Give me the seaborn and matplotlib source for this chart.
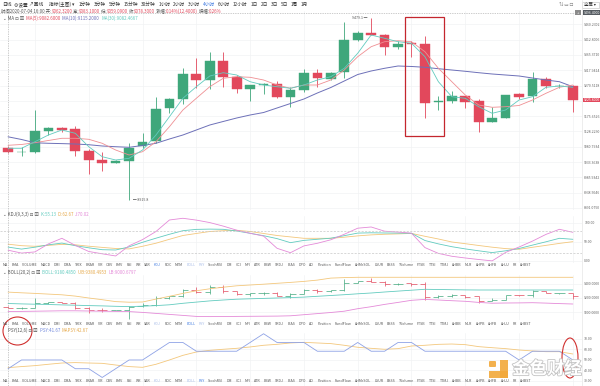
import numpy as np
import matplotlib
matplotlib.use('Agg')
import matplotlib.pyplot as plt
import matplotlib.patches as mpatches
import matplotlib.patheffects as pe
import seaborn as sns

# --- bougies 4h ---
opens = [9076.1, 9063.7, 9065.5, 9130.6, 9139.9, 9135.0, 9067.7, 9039.8, 9031.4, 9037.6,
         9083.2, 9098.7, 9200.1, 9229.8, 9305.5, 9287.8, 9346.7, 9296.2, 9259.9, 9271.4,
         9275.4, 9234.2, 9256.8, 9310.4, 9290.0, 9311.7, 9411.8, 9434.4, 9427.3, 9389.2,
         9403.4, 9399.4, 9218.7, 9222.7, 9238.2, 9223.6, 9158.5, 9170.9, 9243.5, 9238.2,
         9291.8, 9269.2, 9269.2]
highs = [9083.2, 9081.0, 9194.8, 9143.0, 9143.0, 9145.2, 9073.0, 9065.5, 9039.8, 9093.4,
         9124.4, 9234.2, 9231.8, 9324.1, 9355.1, 9373.7, 9373.7, 9303.3, 9273.5, 9277.6,
         9285.6, 9267.0, 9321.0, 9321.0, 9312.0, 9468.5, 9440.6, 9479.1, 9430.4, 9409.6,
         9409.6, 9424.2, 9238.2, 9253.7, 9239.0, 9228.0, 9205.0, 9242.0, 9247.0, 9313.5,
         9298.0, 9275.0, 9272.3]
lows = [9061.5, 9053.1, 9062.0, 9117.3, 9126.6, 9052.2, 8996.4, 9005.7, 9029.6, 8915.8,
        9077.9, 9091.6, 9184.6, 9213.4, 9262.1, 9259.0, 9267.0, 9246.6, 9222.7, 9244.4,
        9233.0, 9203.2, 9251.5, 9265.2, 9288.0, 9293.1, 9409.6, 9427.0, 9365.3, 9383.0,
        9360.0, 9169.1, 9194.8, 9217.4, 9200.1, 9127.5, 9157.0, 9169.1, 9230.0, 9220.5,
        9262.1, 9262.0, 9189.5]
closes = [9063.7, 9065.5, 9129.7, 9139.9, 9133.7, 9068.6, 9039.8, 9031.4, 9037.6, 9077.9,
          9096.5, 9197.0, 9229.8, 9305.5, 9287.8, 9346.7, 9298.0, 9259.9, 9272.3, 9275.4,
          9234.2, 9256.8, 9310.4, 9293.1, 9310.4, 9411.8, 9434.4, 9427.3, 9389.2, 9399.4,
          9399.4, 9217.4, 9222.7, 9238.2, 9220.5, 9158.5, 9170.9, 9241.3, 9236.0, 9290.9,
          9269.2, 9270.0, 9225.8]

# moyennes mobiles
ma_fast = [9076.1, 9076.1, 9096.5, 9117.3, 9132.8, 9122.6, 9081.0, 9050.0, 9039.8, 9045.1,
           9070.8, 9117.3, 9174.0, 9231.1, 9267.0, 9300.2, 9310.4, 9303.3, 9282.5, 9272.3,
           9267.0, 9262.1, 9272.3, 9287.8, 9298.0, 9324.1, 9370.6, 9427.3, 9417.1, 9406.5,
           9401.6, 9360.0, 9282.5, 9236.0, 9231.1, 9205.0, 9184.6, 9194.8, 9225.8, 9236.0,
           9265.2, 9269.2, 9265.2]
ma_mid = [9085.4, 9087.9, 9093.4, 9100.3, 9107.1, 9107.1, 9104.0, 9091.6, 9070.8, 9055.3,
          9065.5, 9096.5, 9143.0, 9194.8, 9231.1, 9267.0, 9293.1, 9298.0, 9296.2, 9287.8,
          9272.3, 9262.1, 9272.3, 9272.3, 9287.8, 9318.8, 9360.0, 9391.0, 9406.5, 9409.6,
          9406.5, 9375.5, 9324.1, 9282.5, 9241.3, 9210.3, 9203.2, 9205.0, 9208.8, 9225.8,
          9246.6, 9265.2, 9272.3]
ma_slow = [9111.7, 9103.4, 9093.1, 9091.6, 9090.6, 9089.4, 9087.2, 9083.2, 9081.0, 9079.2,
           9084.8, 9091.6, 9104.9, 9117.3, 9132.8, 9148.3, 9159.2, 9170.0, 9179.3, 9187.0,
           9201.0, 9214.9, 9228.9, 9247.5, 9264.5, 9284.7, 9304.8, 9315.7, 9324.1, 9331.2,
           9329.7, 9327.2, 9322.8, 9318.8, 9314.8, 9310.4, 9306.4, 9303.3, 9300.2, 9294.0,
           9287.8, 9282.5, 9267.0]

# KDJ
k_vals = [36.6, 31.3, 36.3, 42.6, 47.1, 40.3, 34.7, 29.7, 28.9, 37.1, 49.2, 60.0, 70.3, 79.7,
          83.2, 83.9, 83.4, 78.9, 72.9, 66.6, 58.9, 48.2, 54.2, 57.1, 60.0, 66.6, 73.4, 74.2,
          73.7, 73.4, 72.9, 53.9, 45.0, 37.6, 31.8, 26.8, 22.1, 26.8, 32.9, 41.8, 50.5, 59.7, 57.1]
d_vals = [44.2, 40.3, 38.7, 41.1, 43.7, 42.6, 38.9, 35.8, 32.9, 31.8, 38.7, 46.8, 57.1, 67.1,
          72.4, 77.6, 79.7, 80.8, 77.6, 72.4, 67.1, 63.4, 59.7, 59.7, 59.7, 62.6, 66.1, 68.7,
          70.3, 71.3, 72.6, 65.0, 57.9, 50.0, 45.5, 40.8, 36.3, 32.6, 30.8, 36.1, 41.1, 46.3, 50.8]
j_vals = [28.4, 20.8, 23.9, 45.0, 59.7, 41.1, 25.0, 18.9, 13.2, 40.0, 56.3, 77.6, 107.9, 112.4,
          107.6, 101.1, 91.8, 81.1, 72.9, 65.5, 33.4, 21.8, 39.7, 46.6, 55.8, 70.3, 86.3, 89.5,
          78.4, 76.1, 73.2, 35.3, 20.0, 12.4, 7.9, 3.9, 0.3, 22.6, 36.8, 52.4, 70.0, 83.4, 75.5]

# BOLL
boll_ub = [9281.4, 9271.8, 9263.5, 9253.8, 9244.2, 9226.2, 9200.0, 9176.5, 9150.3, 9142.0,
           9144.8, 9184.8, 9223.5, 9263.5, 9299.4, 9327.0, 9349.0, 9368.4, 9379.4, 9390.4,
           9402.9, 9415.3, 9429.1, 9447.0, 9474.6, 9481.5, 9485.7, 9485.7, 9485.9, 9485.9,
           9485.7, 9485.7, 9485.5, 9485.5, 9485.7, 9485.7, 9485.7, 9485.9, 9485.7, 9485.7,
           9485.5, 9485.7, 9485.7]
boll_mb = [9124.1, 9118.6, 9114.4, 9110.3, 9104.8, 9100.6, 9095.1, 9091.0, 9085.5, 9081.3,
           9086.8, 9095.1, 9106.2, 9126.9, 9143.4, 9160.0, 9172.4, 9183.4, 9189.0, 9194.5,
           9200.0, 9205.5, 9212.4, 9223.5, 9234.5, 9245.5, 9258.0, 9269.0, 9282.8, 9295.2,
           9307.6, 9320.1, 9317.3, 9314.5, 9311.8, 9310.4, 9310.4, 9310.6, 9310.4, 9310.2,
           9310.4, 9310.4, 9310.4]
boll_lb = [9012.3, 9015.1, 9017.8, 9020.6, 9023.4, 9023.4, 9020.6, 9017.8, 9015.1, 9012.3,
           9001.3, 8987.5, 8973.7, 8959.9, 8946.1, 8943.3, 8944.7, 8946.1, 8947.5, 8948.8,
           8950.2, 8954.4, 8969.5, 8984.7, 8999.9, 9017.8, 9052.3, 9079.9, 9111.6, 9139.2,
           9168.2, 9180.7, 9172.4, 9162.7, 9154.5, 9139.2, 9128.2, 9131.0, 9132.4, 9135.1,
           9129.6, 9122.7, 9117.2]

# PSY
psy = [41.67, 50.00, 50.00, 50.00, 50.00, 41.67, 41.67, 33.33, 41.67, 50.00, 50.00, 58.33,
       66.67, 66.67, 58.33, 58.33, 58.33, 58.33, 66.67, 75.00, 66.67, 66.67, 66.67, 58.33,
       58.33, 58.33, 66.67, 58.33, 58.33, 66.67, 66.67, 58.33, 58.33, 58.33, 58.33, 58.33,
       58.33, 58.33, 50.00, 58.33, 58.33, 58.33, 50.00]
mapsy = [42.7, 43.7, 44.6, 45.9, 47.1, 47.5, 47.1, 46.8, 45.2, 43.7, 43.0, 45.9, 50.0, 54.4,
         57.6, 59.2, 60.2, 61.1, 62.4, 64.0, 64.9, 66.2, 66.8, 66.2, 65.6, 64.0, 62.1, 61.1,
         60.2, 60.8, 63.3, 64.0, 64.9, 65.2, 64.6, 62.7, 61.7, 60.8, 59.5, 58.6, 57.9, 57.9, 55.7]

main_ticks = [8891.0750, 8938.5046, 8985.9342, 9033.3638, 9080.7934, 9128.2230, 9175.6526,
              9223.0822, 9270.5118, 9317.9414, 9365.3710, 9412.8006, 9460.2302]

tabs = ['MA', 'EMA', 'VOLUME', 'MACD', 'DMI', 'DMA', 'TRIX', 'BRAR', 'VR', 'OBV', 'EMV', 'RSI',
        'WR', 'SAR', 'KDJ', 'ROC', 'MTM', 'BOLL', 'PSY', 'StochRSI', 'DM', 'CCI', 'MFI', 'ATR',
        'BBW', 'SKDJ', 'BIAS', 'DPO', 'AO', 'Position', 'FundFlow', 'AHMrSOL', 'LSUR', 'BSSS',
        'TVolume', 'FTSB', 'TTSI', 'TTMJ', 'AHBB', 'MLR', 'AHPB', 'AHFB', 'AHJJ', 'FR', 'AHBST']
periods = ['1分钟', '3分钟', '5分钟', '15分钟', '30分钟', '1小时', '2小时', '3小时', '4小时',
           '6小时', '12小时', '1日', '2日', '3日', '5日', '1周', '1月']

GREEN = '#3fa77b'
RED = '#e2485c'
TEAL = '#62cbbf'
PINK = '#ef8f93'
NAVY = '#6d70b8'
ORANGE = '#f3c77c'
MAGENTA = '#e48ad8'
BLUE = '#8ea2e6'
GREY = '#555555'

sns.set_theme(style='white')
plt.rcParams['font.family'] = ['Noto Sans CJK SC', 'DejaVu Sans']

W, H = 600, 386
fig = plt.figure(figsize=(6, 3.86), dpi=100)


def rect(x0, y0, x1, y1):
    return [x0 / W, 1 - y1 / H, (x1 - x0) / W, (y1 - y0) / H]


idx = np.arange(len(closes))
o = np.array(opens)
c = np.array(closes)
cols = [GREEN if cc >= oo else RED for oo, cc in zip(o, c)]
XLIM = (-0.6, 42.68)


def style_axis(ax, ticks, fmt, ylim):
    ax.set_xlim(*XLIM)
    ax.set_ylim(*ylim)
    ax.yaxis.tick_right()
    ax.set_yticks(ticks)
    ax.set_yticklabels([fmt.format(t) for t in ticks])
    ax.set_xticks(range(2, 43, 4))
    ax.tick_params(axis='y', length=0, labelsize=2.5, pad=1.6, labelcolor='#666')
    ax.tick_params(axis='x', length=0, labelbottom=False)
    ax.grid(True, color='#f1f3f4', lw=0.5)
    ax.set_xlabel('')
    ax.set_ylabel('')
    for s in ax.spines.values():
        s.set_visible(False)
    ax.patch.set_alpha(0)


# --- graphique principal ---
ax = fig.add_axes(rect(0, 11, 582, 210))
ax.vlines(idx, lows, highs, colors=cols, lw=0.6)
ax.bar(idx, np.maximum(np.abs(c - o), 1.3), bottom=np.minimum(o, c), width=0.72,
       color=cols, edgecolor=cols, lw=0.3, zorder=2)
sns.lineplot(x=idx, y=ma_slow, ax=ax, color=NAVY, lw=0.7, zorder=3)
sns.lineplot(x=idx, y=ma_mid, ax=ax, color=PINK, lw=0.6, zorder=3)
sns.lineplot(x=idx, y=ma_fast, ax=ax, color=TEAL, lw=0.6, zorder=3)
style_axis(ax, main_ticks, '{:.4f}', (8884.8, 9501.7))
hi = int(np.argmax(highs))
lo = int(np.argmin(lows))
ax.text(hi - 0.3, highs[hi], f'{highs[hi]:.1f} ━', ha='right', va='center',
        fontsize=2.6, color=GREY)
ax.text(lo + 0.3, lows[lo], f'━ {lows[lo]:.1f}', ha='left', va='center',
        fontsize=2.6, color=GREY)
ax.add_patch(mpatches.Rectangle((31 - 1.45, 9115), 2.9, 369, fill=False,
                                edgecolor='#c4262e', lw=0.9, zorder=5))

# --- KDJ ---
ax_k = fig.add_axes(rect(0, 216, 582, 263))
sns.lineplot(x=idx, y=d_vals, ax=ax_k, color=ORANGE, lw=0.6)
sns.lineplot(x=idx, y=k_vals, ax=ax_k, color=TEAL, lw=0.6)
sns.lineplot(x=idx, y=j_vals, ax=ax_k, color=MAGENTA, lw=0.6)
for lvl in (80, 20):
    ax_k.axhline(lvl, color='#c8c8c8', lw=0.5, dashes=(3, 2))
style_axis(ax_k, [0, 50, 100], '{:.2f}', (-5.3, 118.4))

# --- BOLL ---
ax_b = fig.add_axes(rect(0, 275, 582, 320))
ax_b.vlines(idx, lows, highs, colors=cols, lw=0.5)
ax_b.hlines(opens, idx - 0.38, idx, colors=cols, lw=0.5)
ax_b.hlines(closes, idx, idx + 0.38, colors=cols, lw=0.5)
sns.lineplot(x=idx, y=boll_ub, ax=ax_b, color=ORANGE, lw=0.6)
sns.lineplot(x=idx, y=boll_mb, ax=ax_b, color=TEAL, lw=0.6)
sns.lineplot(x=idx, y=boll_lb, ax=ax_b, color=MAGENTA, lw=0.6)
style_axis(ax_b, [9000, 9200, 9400], '{:.4f}', (8896.4, 9517.4))

# --- PSY ---
ax_p = fig.add_axes(rect(0, 333, 582, 386))
sns.lineplot(x=idx, y=mapsy, ax=ax_p, color=ORANGE, lw=0.6)
sns.lineplot(x=idx, y=psy, ax=ax_p, color=BLUE, lw=0.6)
style_axis(ax_p, [30, 40, 50, 60, 70], '{:.2f}', (25.2, 75.7))

# --- calque texte / décor en pixels ---
ov = fig.add_axes([0, 0, 1, 1])
ov.set_xlim(0, W)
ov.set_ylim(H, 0)
ov.axis('off')
ov.set_zorder(10)
ov.patch.set_alpha(0)
renderer = fig.canvas.get_renderer()


def seq(x, y, parts, size, gap=0.0):
    for s, col in parts:
        t = ov.text(x, y, s, color=col, fontsize=size, va='center', ha='left')
        x += t.get_window_extent(renderer).width + gap
    return x


ov.axvline(582, color='#e6e6e6', lw=0.5)
ov.plot([0, 576], [12.7, 12.7], color='#9a9a9a', lw=0.5, ls=(0, (1, 1.5)))
ov.plot([8, 8], [12.7, 386], color='#9a9a9a', lw=0.5, ls=(0, (1, 1.5)))

x = seq(2, 4.5, [('日线', '#333'), ('  ⚙设置', '#333'), ('  ↗画线', '#333'),
                 ('     指标(主图) ▾', '#333')], 3.4)
seq(x + 5, 4.5, [(p, '#3f7ae0' if p == '4小时' else '#333') for p in periods], 3.4, gap=2.8)
ov.text(566, 4.5, '⇅ ▭ ☐', fontsize=3.2, color='#666', ha='center', va='center')
ov.add_patch(mpatches.Rectangle((582, 1.5), 17, 6, fill=False, edgecolor='#bbb', lw=0.4))
ov.text(590.5, 4.5, '全屏 ▾', fontsize=3.2, color='#333', ha='center', va='center')

seq(1, 11.2, [('时间2020-07-04 16:00 开:', GREY), ('9062.3200', RED), (' 高:', GREY),
              ('9083.1000', RED), (' 低:', GREY), ('9059.0900', RED), (' 收:', GREY),
              ('9078.3000', RED), (' 涨幅:', GREY), ('0.14%(12.4000)', RED),
              (' 振幅:', GREY), ('0.26%', RED)], 3.2)
seq(3, 18.5, [('⌄ MA ⊡ ⊠  ', GREY), ('MA(5):9082.6000  ', RED),
              ('MA(10):9115.2000  ', NAVY), ('MA(30):9082.4667', TEAL)], 3.2)
seq(3, 214.5, [('⌄ KDJ(9,3,3) ⊡ ⊠  ', GREY), ('K:55.13  ', TEAL),
               ('D:62.67  ', '#e6a94a'), ('J:70.02', MAGENTA)], 3.2)
seq(3, 272, [('⌄ BOLL(20,2) ⊡ ⊠  ', GREY), ('BOLL:9180.4850  ', TEAL),
             ('UB:9380.4953  ', '#e6a94a'), ('LB:9000.6797', MAGENTA)], 3.2)
seq(8, 330, [('PSY(12,6) ⊡ ⊠  ', GREY), ('PSY:41.67  ', '#6f86dc'),
             ('MAPSY:42.67', '#e6a94a')], 3.2)

for y, active in ((265.5, 'KDJ'), (324, 'BOLL'), (381.5, 'PSY')):
    parts = []
    for t in tabs:
        if t == active:
            col = '#3f7ae0'
        elif t in ('KDJ', 'BOLL', 'PSY'):
            col = '#a9bde8'
        else:
            col = GREY
        parts.append((t, col))
    seq(3, y, parts, 2.6, gap=3.3)

# étiquettes de prix à droite
ov.add_patch(mpatches.Rectangle((575, 10.2), 6, 5, color='#8a8a8a', lw=0))
ov.text(578, 12.7, '+', fontsize=3, color='white', ha='center', va='center')
ov.add_patch(mpatches.Rectangle((582.5, 10.2), 17.5, 5, color='#555b61', lw=0))
ov.text(583.5, 12.7, '9496.4000', fontsize=2.5, color='white', ha='left', va='center')
ov.add_patch(mpatches.Rectangle((582.5, 97.6), 17.5, 4.8, color=RED, lw=0))
ov.text(583.5, 100, f'{closes[-1]:.4f}', fontsize=2.5, color='white', ha='left', va='center')

# annotations rouges
ov.add_patch(mpatches.Ellipse((17.5, 331), 29, 28, fill=False, edgecolor='#d0302f', lw=0.8))
ov.add_patch(mpatches.Ellipse((570, 358), 16, 40, fill=False, edgecolor='#d0302f', lw=0.8))

# filigrane
LOGO = '#f2a93b'
ov.add_patch(mpatches.FancyBboxPatch((489, 361), 7, 6, boxstyle='round,pad=0,rounding_size=1',
                                     color=LOGO, lw=0, alpha=0.9))
ov.add_patch(mpatches.Rectangle((499.5, 360), 8.5, 18, color=LOGO, lw=0, alpha=0.9))
ov.add_patch(mpatches.Rectangle((489, 371), 19, 7, color=LOGO, lw=0, alpha=0.9))
ov.text(547, 369, '金色财经', fontsize=12.5, color='white', ha='center', va='center',
        fontweight='bold',
        path_effects=[pe.withStroke(linewidth=1.2, foreground='#c4c4c4')])

fig.savefig('out.png', dpi=100)
